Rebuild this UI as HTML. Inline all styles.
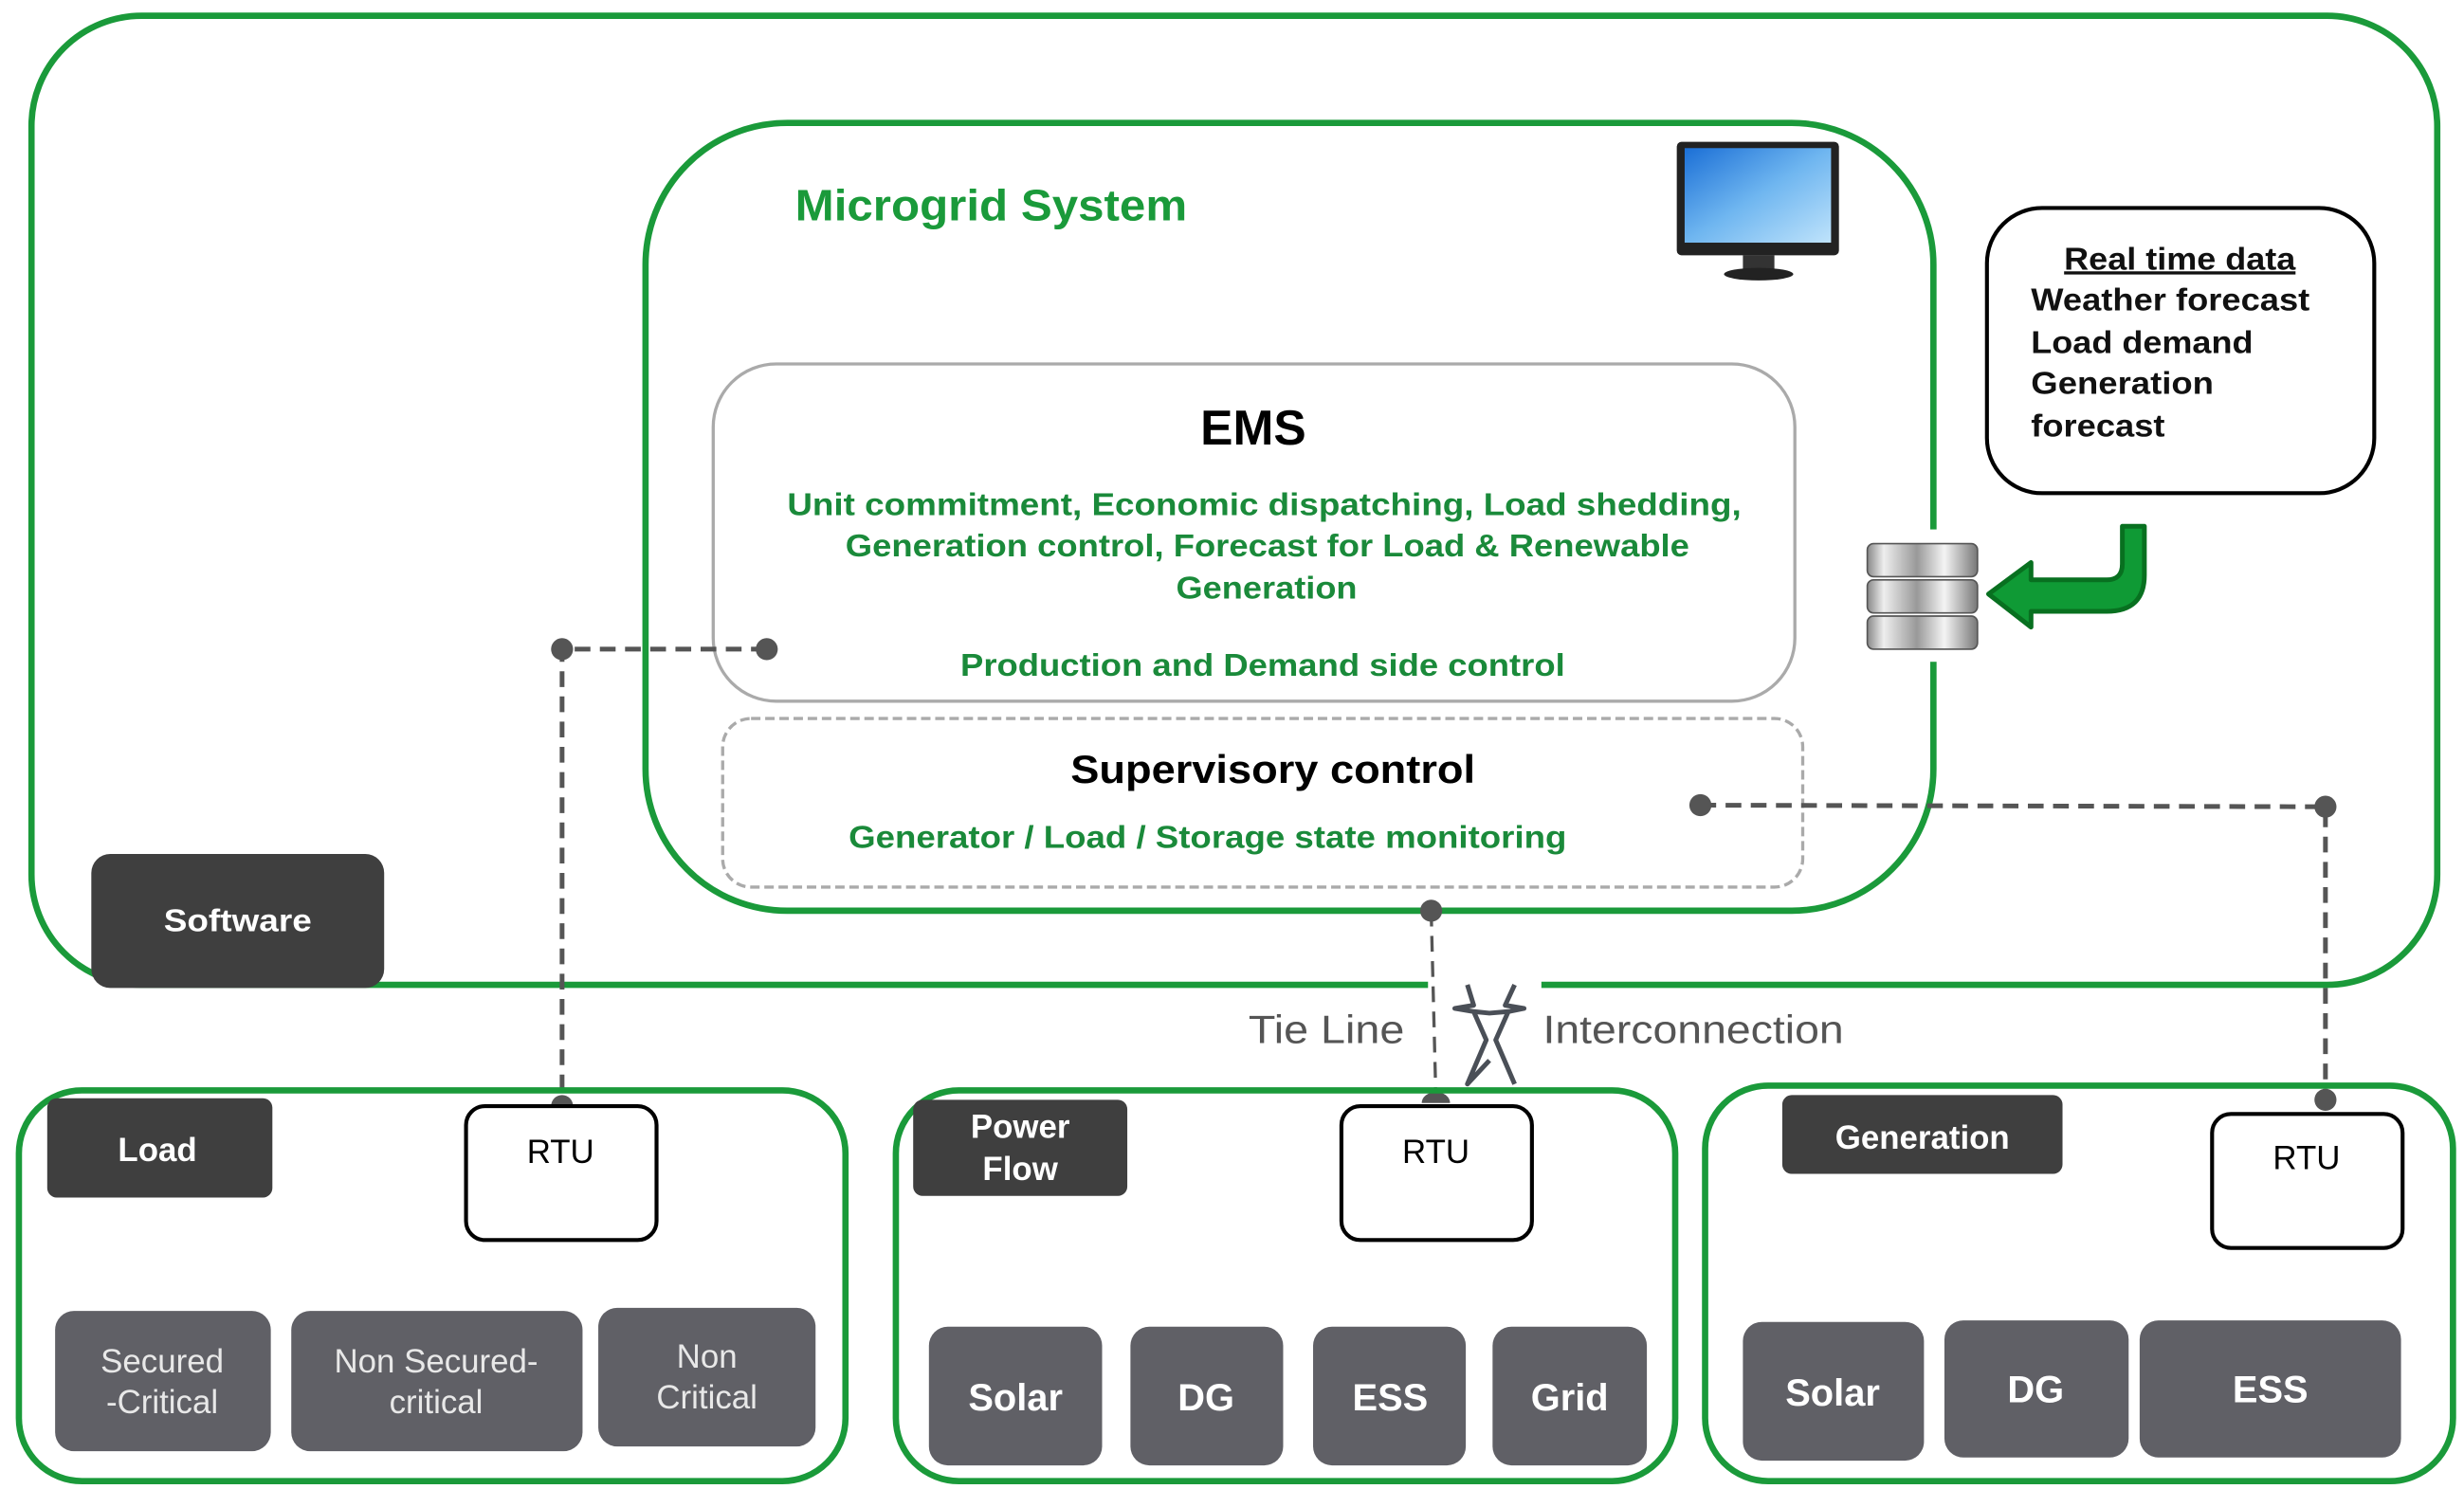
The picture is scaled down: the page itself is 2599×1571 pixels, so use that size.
<!DOCTYPE html>
<html><head><meta charset="utf-8"><style>html,body{margin:0;padding:0;background:#fff}svg{display:block}</style></head>
<body>
<svg width="2599" height="1571" viewBox="0 0 1565 945" preserveAspectRatio="none" xmlns="http://www.w3.org/2000/svg" font-family="Liberation Sans, sans-serif">
<defs>
<linearGradient id="cyl" x1="0" x2="1" y1="0" y2="0">
<stop offset="0" stop-color="#888"/><stop offset="0.15" stop-color="#eee"/><stop offset="0.45" stop-color="#999"/><stop offset="0.7" stop-color="#f4f4f4"/><stop offset="1" stop-color="#777"/></linearGradient>
<linearGradient id="scr" x1="0" y1="0" x2="1" y2="1"><stop offset="0" stop-color="#1b6fd6"/><stop offset="0.5" stop-color="#6fb6f0"/><stop offset="1" stop-color="#bfe3fb"/></linearGradient>
</defs>
<path d="M907 625 H90 A70 70 0 0 1 20 555 V80 A70 70 0 0 1 90 10 H1478 A70 70 0 0 1 1548 80 V555 A70 70 0 0 1 1478 625 H979" fill="none" stroke="#1a9a3a" stroke-width="4"/>
<rect x="410" y="78" width="818" height="500" rx="90" fill="none" stroke="#1a9a3a" stroke-width="4"/>
<text x="505" y="140" font-size="28" fill="#1a9a3a" font-weight="bold" textLength="249" lengthAdjust="spacingAndGlyphs">Microgrid System</text>
<rect x="1065" y="90" width="103" height="72" rx="3" fill="#222"/>
<rect x="1070" y="94" width="93" height="60" fill="url(#scr)"/>
<rect x="1107" y="162" width="20" height="9" fill="#333"/>
<ellipse cx="1117" cy="174" rx="22" ry="4" fill="#222"/>
<rect x="453" y="231" width="687" height="214" rx="40" fill="#fff" stroke="#aaa" stroke-width="2"/>
<text x="796" y="282" font-size="31" font-weight="bold" text-anchor="middle">EMS</text>
<g font-size="20" fill="#1a8a3a" font-weight="bold" lengthAdjust="spacingAndGlyphs">
<text x="500" y="327" textLength="606" lengthAdjust="spacingAndGlyphs">Unit commitment,  Economic dispatching, Load shedding,</text>
<text x="537" y="353" textLength="536" lengthAdjust="spacingAndGlyphs">Generation control, Forecast for Load &amp; Renewable</text>
<text x="747" y="380" textLength="115" lengthAdjust="spacingAndGlyphs">Generation</text>
<text x="610" y="429" textLength="384" lengthAdjust="spacingAndGlyphs">Production and Demand side control</text>
</g>
<rect x="459" y="456" width="686" height="107" rx="18" fill="none" stroke="#aaa" stroke-width="2" stroke-dasharray="6,3"/>
<text x="680" y="497" font-size="25" font-weight="bold" textLength="257" lengthAdjust="spacingAndGlyphs">Supervisory control</text>
<text x="539" y="538" font-size="20" fill="#1a8a3a" font-weight="bold" textLength="456" lengthAdjust="spacingAndGlyphs">Generator / Load / Storage state monitoring</text>
<rect x="1262" y="132" width="246" height="181" rx="35" fill="#fff" stroke="#000" stroke-width="2.5"/>
<g font-size="20" font-weight="bold" fill="#111">
<text x="1311" y="171" text-decoration="underline" textLength="147" lengthAdjust="spacingAndGlyphs">Real time data</text>
<text x="1290" y="197" textLength="177" lengthAdjust="spacingAndGlyphs">Weather forecast</text>
<text x="1290" y="224" textLength="141" lengthAdjust="spacingAndGlyphs">Load demand</text>
<text x="1290" y="250" textLength="116" lengthAdjust="spacingAndGlyphs">Generation</text>
<text x="1290" y="277" textLength="85" lengthAdjust="spacingAndGlyphs">forecast</text>
</g>
<rect x="1180" y="336" width="100" height="84" fill="#fff"/>
<g stroke="#555" stroke-width="1">
<rect x="1186" y="345" width="70" height="21" rx="4" fill="url(#cyl)"/>
<rect x="1186" y="368" width="70" height="21" rx="4" fill="url(#cyl)"/>
<rect x="1186" y="391" width="70" height="21" rx="4" fill="url(#cyl)"/>
</g>
<path d="M1350 334 H1362 V365 Q1362 388 1338 388 H1290 V398 L1263 377 L1290 357 V368 H1338 Q1348 368 1348 358 V334 Z" fill="#0f9a35" stroke="#087020" stroke-width="3" stroke-linejoin="round"/>
<rect x="58" y="542" width="186" height="85" rx="12" fill="#3f3f3f"/>
<text x="104" y="591" font-size="20" font-weight="bold" fill="#fff" textLength="94" lengthAdjust="spacingAndGlyphs">Software</text>
<g stroke="#555" stroke-width="3" fill="none" stroke-dasharray="10,6">
<path d="M487 412 H357 V702"/>
<path d="M1080 511 L1477 512 V698"/>
<path d="M909 578 L912 697" stroke-width="2"/>
</g>
<g fill="#555">
<circle cx="487" cy="412" r="7"/><circle cx="357" cy="412" r="7"/><circle cx="357" cy="702" r="7"/>
<circle cx="1080" cy="511" r="7"/><circle cx="1477" cy="512" r="7"/><circle cx="1477" cy="698" r="7"/>
<circle cx="909" cy="578" r="7"/><path d="M903 700 A9 7 0 0 1 921 700 Z"/>
</g>
<text x="793" y="662" font-size="25" fill="#555" textLength="99" lengthAdjust="spacingAndGlyphs">Tie Line</text>
<text x="980" y="662" font-size="25" fill="#555" textLength="191" lengthAdjust="spacingAndGlyphs">Interconnection</text>
<path d="M932 625 L936 638 L924 640 L936 642 L946 643 L958 642 L968 640 L956 638 L962 625 M936 642 L944 660 L932 688 L946 673 M958 642 L950 660 L962 688" fill="none" stroke="#4a4f57" stroke-width="3" stroke-linejoin="round"/>
<g fill="none" stroke="#1a9a3a" stroke-width="4">
<rect x="12" y="692" width="525" height="248" rx="40"/>
<rect x="569" y="692" width="495" height="248" rx="40"/>
<rect x="1083" y="689" width="475" height="251" rx="40"/>
</g>
<g fill="#3f3f3f">
<rect x="30" y="697" width="143" height="63" rx="6"/>
<rect x="580" y="698" width="136" height="61" rx="6"/>
<rect x="1132" y="695" width="178" height="50" rx="6"/>
</g>
<g fill="#fff" font-weight="bold" font-size="21" text-anchor="middle">
<text x="100" y="737">Load</text>
<text x="648" y="722">Power</text>
<text x="648" y="749">Flow</text>
<text x="1221" y="729">Generation</text>
</g>
<g fill="#fff" stroke="#000" stroke-width="2.5">
<rect x="296" y="702" width="121" height="85" rx="12"/>
<rect x="852" y="702" width="121" height="85" rx="12"/>
<rect x="1405" y="707" width="121" height="85" rx="12"/>
</g>
<g font-size="21" text-anchor="middle">
<text x="356" y="738">RTU</text>
<text x="912" y="738">RTU</text>
<text x="1465" y="742">RTU</text>
</g>
<g fill="#606066">
<rect x="35" y="832" width="137" height="89" rx="12"/>
<rect x="185" y="832" width="185" height="89" rx="12"/>
<rect x="380" y="830" width="138" height="88" rx="12"/>
<rect x="590" y="842" width="110" height="88" rx="12"/>
<rect x="718" y="842" width="97" height="88" rx="12"/>
<rect x="834" y="842" width="97" height="88" rx="12"/>
<rect x="948" y="842" width="98" height="88" rx="12"/>
<rect x="1107" y="839" width="115" height="88" rx="12"/>
<rect x="1235" y="838" width="117" height="87" rx="12"/>
<rect x="1359" y="838" width="166" height="87" rx="12"/>
</g>
<g fill="#e8e8e8" font-size="21" text-anchor="middle">
<text x="103" y="871">Secured</text><text x="103" y="897">-Critical</text>
<text x="277" y="871">Non Secured-</text><text x="277" y="897">critical</text>
<text x="449" y="868">Non</text><text x="449" y="894">Critical</text>
</g>
<g fill="#fff" font-size="24" font-weight="bold" text-anchor="middle">
<text x="645" y="895">Solar</text>
<text x="766" y="895">DG</text>
<text x="883" y="895">ESS</text>
<text x="997" y="895">Grid</text>
<text x="1164" y="892">Solar</text>
<text x="1293" y="890">DG</text>
<text x="1442" y="890">ESS</text>
</g>
</svg>
</body></html>
